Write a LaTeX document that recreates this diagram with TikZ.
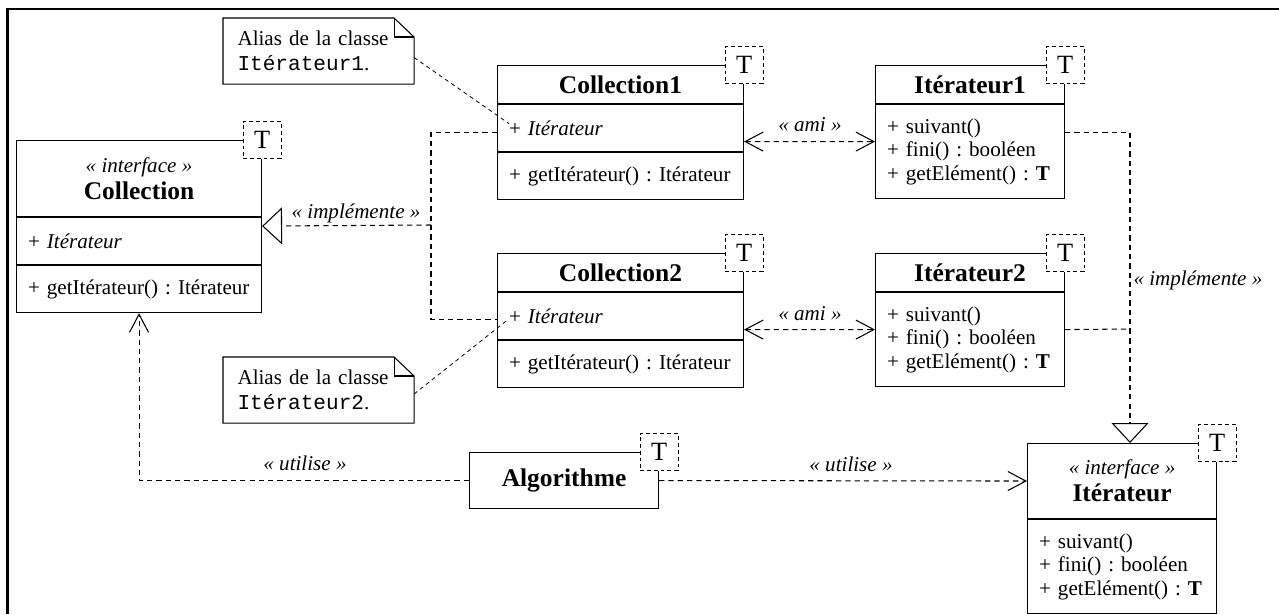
\documentclass[tikz,border=0pt]{standalone}
\usepackage{fontspec}
\setmainfont{Liberation Serif}
\setmonofont{Liberation Mono}
\usetikzlibrary{arrows.meta}

\begin{document}
\frenchspacing
\begin{tikzpicture}[x=.2mm,y=-.2mm,line width=.6pt,font=\fontsize{12}{13.3}\selectfont,
  >={Straight Barb[length=3.6mm,width=3.8mm]},
  titre/.style={draw,anchor=north west,inner sep=0pt,font=\fontsize{14.5}{15.5}\selectfont\bfseries},
  compart/.style={draw,anchor=north west,inner xsep=2.3mm,inner ysep=0pt,align=left},
  tpar/.style={draw,dash pattern=on 2.2pt off 1.7pt,fill=white,minimum width=7.6mm,minimum height=7.4mm,inner sep=0pt,font=\fontsize{15}{15}\selectfont},
  note/.style={anchor=north west,minimum width=38mm,minimum height=13mm,text width=32.4mm,inner xsep=2.8mm,inner ysep=0pt,align=left,font=\fontsize{12}{14.2}\selectfont},
  dep/.style={dash pattern=on 3pt off 2.3pt},
  fin/.style={line width=.45pt,dash pattern=on 2.3pt off 2pt},
  lab/.style={anchor=base,font=\fontsize{12}{14}\selectfont\itshape,inner sep=0pt},
  real/.style={-{Triangle[open,length=4mm,width=7.4mm]}}]
\useasboundingbox (0,0) rectangle (1279,614);
\draw[line width=1.5pt] (7.5,614)--(7.5,9)--(1279,9);

\node[titre,minimum width=49mm,minimum height=15.2mm,align=center] (ct) at (16,140) {{\mdseries\itshape\fontsize{12}{14}\selectfont « interface »}\\Collection};
\node[compart,text width=44.4mm,minimum height=9.4mm] (ca) at (ct.south west) {+ \textit{Itérateur}};
\node[compart,text width=44.4mm,minimum height=9.4mm] (cm) at (ca.south west) {+ getItérateur() : Itérateur};
\node[tpar] (ctT) at (ct.north east) {T};

\node[titre,minimum width=49.2mm,minimum height=7.6mm] (c1t) at (497,65) {Collection1};
\node[compart,text width=44.6mm,minimum height=9.4mm] (c1a) at (c1t.south west) {+ \textit{Itérateur}};
\node[compart,text width=44.6mm,minimum height=9.4mm] (c1m) at (c1a.south west) {+ getItérateur() : Itérateur};
\node[tpar] (c1T) at (c1t.north east) {T};

\node[titre,minimum width=49.2mm,minimum height=7.6mm] (c2t) at (497,253) {Collection2};
\node[compart,text width=44.6mm,minimum height=9.4mm] (c2a) at (c2t.south west) {+ \textit{Itérateur}};
\node[compart,text width=44.6mm,minimum height=9.4mm] (c2m) at (c2a.south west) {+ getItérateur() : Itérateur};
\node[tpar] (c2T) at (c2t.north east) {T};

\node[titre,minimum width=37.8mm,minimum height=7.6mm] (i1t) at (875,65) {Itérateur1};
\node[compart,text width=33.2mm,minimum height=18.8mm] (i1m) at (i1t.south west) {+ suivant()\\+ fini() : booléen\\+ getElément() : \textbf{T}};
\node[tpar] (i1T) at (i1t.north east) {T};

\node[titre,minimum width=37.8mm,minimum height=7.6mm] (i2t) at (875,253) {Itérateur2};
\node[compart,text width=33.2mm,minimum height=18.8mm] (i2m) at (i2t.south west) {+ suivant()\\+ fini() : booléen\\+ getElément() : \textbf{T}};
\node[tpar] (i2T) at (i2t.north east) {T};

\node[titre,minimum width=37.8mm,minimum height=11.2mm] (alg) at (469,452) {Algorithme};
\node[tpar] (algT) at (alg.north east) {T};

\node[titre,minimum width=37.8mm,minimum height=15mm,align=center] (itt) at (1027,443) {{\mdseries\itshape\fontsize{12}{14}\selectfont « interface »}\\Itérateur};
\node[compart,text width=33.2mm,minimum height=18.8mm] (itm) at (itt.south west) {+ suivant()\\+ fini() : booléen\\+ getElément() : \textbf{T}};
\node[tpar] (itT) at (itt.north east) {T};

\node[note] (n1) at (223,18) {Alias de la classe\\\texttt{Itérateur1}.};
\draw (n1.south west) |- ([xshift=-4mm]n1.north east) -- ([yshift=-3.8mm]n1.north east) -- (n1.south east) -- cycle;
\draw ([xshift=-4mm]n1.north east) |- ([yshift=-3.8mm]n1.north east);
\node[note] (n2) at (223,357) {Alias de la classe\\\texttt{Itérateur2}.};
\draw (n2.south west) |- ([xshift=-4mm]n2.north east) -- ([yshift=-3.8mm]n2.north east) -- (n2.south east) -- cycle;
\draw ([xshift=-4mm]n2.north east) |- ([yshift=-3.8mm]n2.north east);
\draw[fin] ([yshift=-1.3mm]n1.east) -- ([shift={(12,-4.5)}]c1a.west);
\draw[fin] ([yshift=-.8mm]n2.east) -- ([shift={(11,3.5)}]c2a.west);

\coordinate (j1) at (431,225);
\draw[dep] ([yshift=-.9mm]c1a.west) -| (j1) |- ([yshift=-.7mm]c2a.west);
\draw[dep,real] (j1) -- ([yshift=-1.8mm]ca.north east);
\node[lab] (lim1) at (356,218) {« implémente »};

\coordinate (j2) at (1130,329);
\draw[dep] ([yshift=3.8mm]i1m.east) -| (j2);
\draw[dep] ([yshift=2mm]i2m.east) -- (j2);
\draw[dep,real] (j2) -- (j2 |- itt.north);
\node[lab,anchor=base west] (lim2) at (1133,285) {« implémente »};

\draw[dep,<->] ([yshift=-2.7mm]c1a.east) -- ([yshift=2mm]i1m.west);
\node[lab] (lami1) at (810,131) {« ami »};
\draw[dep,<->] ([yshift=-2.7mm]c2a.east) -- ([yshift=2mm]i2m.west);
\node[lab] (lami2) at (810,320) {« ami »};

\draw[dep,->] (alg.west) -| (cm.south);
\node[lab] (luti1) at (305,470) {« utilise »};
\draw[dep,->] (alg.east) -- (itt.west);
\node[lab] (luti2) at (851,471) {« utilise »};
\end{tikzpicture}
\end{document}
